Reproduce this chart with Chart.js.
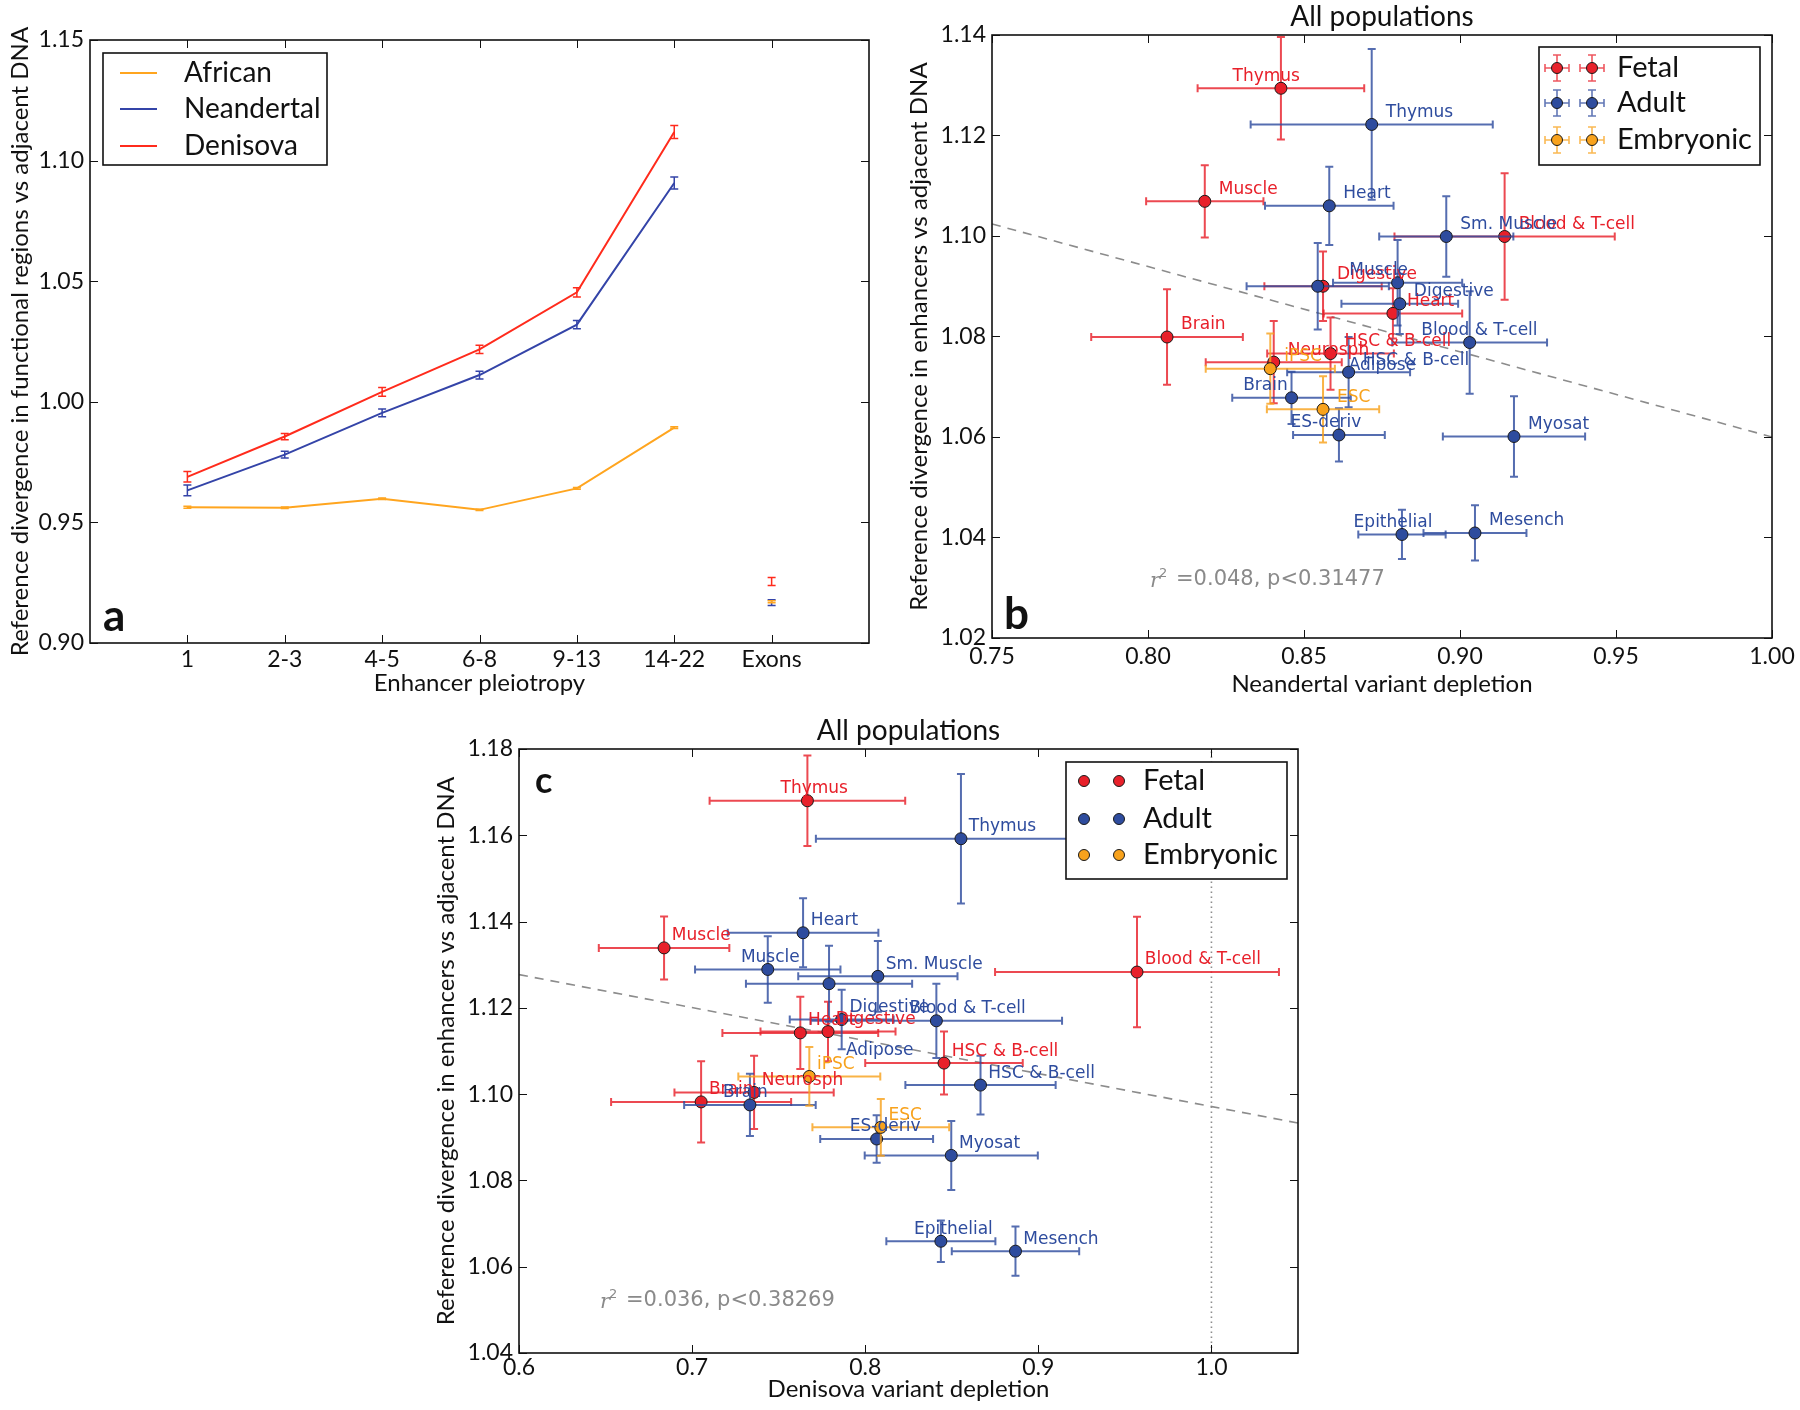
<!DOCTYPE html>
<html>
<head>
<meta charset="utf-8">
<script src="https://cdn.jsdelivr.net/npm/chart.js@4.4.0/dist/chart.umd.min.js"></script>
<style>
  html, body { margin: 0; padding: 0; background: #fff; }
  #wrap { position: relative; width: 1800px; height: 1410px; }
  #wrap canvas { position: absolute; left: 0; top: 0; }
</style>
</head>
<body>
<div id="wrap">
  <canvas id="panelA" width="1800" height="1410"></canvas>
  <canvas id="panelB" width="1800" height="1410"></canvas>
  <canvas id="panelC" width="1800" height="1410"></canvas>
</div>
<script>
// ---- panel a : divergence vs enhancer pleiotropy ----
const pleiotropyLabels = ['1', '2-3', '4-5', '6-8', '9-13', '14-22', 'Exons'];
const africanDiv    = [0.9563, 0.9561, 0.9598, 0.9552, 0.9641, 0.9893];
const africanErr    = [0.0004, 0.0003, 0.0003, 0.0003, 0.0004, 0.0004];
const neandertalDiv = [0.9633, 0.9781, 0.9954, 1.0111, 1.0320, 1.0907];
const neandertalErr = [0.0022, 0.0014, 0.0016, 0.0016, 0.0017, 0.0025];
const denisovaDiv   = [0.9689, 0.9856, 1.0041, 1.0217, 1.0454, 1.1119];
const denisovaErr   = [0.0022, 0.0013, 0.0018, 0.0017, 0.0019, 0.0027];
// exons: African, Neandertal, Denisova
const exonDiv = [0.9171, 0.9167, 0.9255];
const exonErr = [0.0004, 0.0012, 0.0017];
const ticksAY = [0.90, 0.95, 1.00, 1.05, 1.10, 1.15];

// ---- panel b : Neandertal variant depletion ----
const fetalTissuesB   = ['Thymus', 'Muscle', 'Brain', 'Digestive', 'Heart', 'Blood & T-cell', 'HSC & B-cell', 'Neurosph'];
const fetalDeplB      = [0.8426, 0.8182, 0.8061, 0.8561, 0.8785, 0.9143, 0.8585, 0.8403];
const fetalDeplErrB   = [0.0267, 0.0188, 0.0243, 0.0188, 0.0222, 0.0353, 0.0203, 0.0218];
const fetalDivB       = [1.1294, 1.1069, 1.0799, 1.0900, 1.0846, 1.0999, 1.0766, 1.0749];
const fetalDivErrB    = [0.0102, 0.0072, 0.0095, 0.0069, 0.0050, 0.0126, 0.0072, 0.0082];

const adultTissuesB   = ['Thymus', 'Heart', 'Sm. Muscle', 'Muscle', 'Digestive', 'Adipose', 'Blood & T-cell', 'HSC & B-cell', 'Brain', 'ES-deriv', 'Myosat', 'Epithelial', 'Mesench'];
const adultDeplB      = [0.8717, 0.8581, 0.8956, 0.8800, 0.8807, 0.8544, 0.9031, 0.8643, 0.8460, 0.8612, 0.9173, 0.8814, 0.9048];
const adultDeplErrB   = [0.0388, 0.0206, 0.0215, 0.0207, 0.0187, 0.0228, 0.0248, 0.0197, 0.0190, 0.0147, 0.0228, 0.0140, 0.0165];
const adultDivB       = [1.1222, 1.1060, 1.0999, 1.0907, 1.0865, 1.0900, 1.0788, 1.0729, 1.0678, 1.0604, 1.0601, 1.0406, 1.0409];
const adultDivErrB    = [0.0150, 0.0078, 0.0080, 0.0085, 0.0060, 0.0086, 0.0102, 0.0070, 0.0052, 0.0053, 0.0080, 0.0049, 0.0055];

const embTissuesB     = ['iPSC', 'ESC'];
const embDeplB        = [0.8392, 0.8561];
const embDeplErrB     = [0.0207, 0.0180];
const embDivB         = [1.0736, 1.0655];
const embDivErrB      = [0.0070, 0.0066];

const regDeplB = [0.75, 1.00];
const regDivB  = [1.1024, 1.0600];
const ticksBX = [0.75, 0.80, 0.85, 0.90, 0.95, 1.00];
const ticksBY = [1.02, 1.04, 1.06, 1.08, 1.10, 1.12, 1.14];

// ---- panel c : Denisova variant depletion ----
const fetalTissuesC   = ['Thymus', 'Muscle', 'Blood & T-cell', 'Heart', 'Digestive', 'HSC & B-cell', 'Brain', 'Neurosph'];
const fetalDeplC      = [0.7666, 0.6838, 0.9570, 0.7625, 0.7785, 0.8455, 0.7052, 0.7358];
const fetalDeplErrC   = [0.0565, 0.0377, 0.0820, 0.0450, 0.0390, 0.0455, 0.0520, 0.0460];
const fetalDivC       = [1.1680, 1.1339, 1.1283, 1.1142, 1.1145, 1.1072, 1.0982, 1.1004];
const fetalDivErrC    = [0.0105, 0.0073, 0.0128, 0.0084, 0.0069, 0.0073, 0.0094, 0.0085];

const adultTissuesC   = ['Thymus', 'Heart', 'Sm. Muscle', 'Muscle', 'Digestive', 'Adipose', 'Blood & T-cell', 'HSC & B-cell', 'Brain', 'ES-deriv', 'Myosat', 'Epithelial', 'Mesench'];
const adultDeplC      = [0.8553, 0.7641, 0.8073, 0.7437, 0.7864, 0.7791, 0.8411, 0.8666, 0.7334, 0.8066, 0.8497, 0.8437, 0.8868];
const adultDeplErrC   = [0.0838, 0.0435, 0.0460, 0.0420, 0.0300, 0.0480, 0.0726, 0.0434, 0.0380, 0.0326, 0.0500, 0.0315, 0.0368];
const adultDivC       = [1.1592, 1.1374, 1.1273, 1.1289, 1.1173, 1.1256, 1.1170, 1.1021, 1.0975, 1.0896, 1.0858, 1.0659, 1.0636];
const adultDivErrC    = [0.0150, 0.0080, 0.0082, 0.0077, 0.0069, 0.0088, 0.0086, 0.0068, 0.0072, 0.0055, 0.0080, 0.0048, 0.0057];

const embTissuesC     = ['iPSC', 'ESC'];
const embDeplC        = [0.7677, 0.8090];
const embDeplErrC     = [0.0410, 0.0395];
const embDivC         = [1.1041, 1.0923];
const embDivErrC      = [0.0068, 0.0066];

const regDeplC = [0.60, 1.05];
const regDivC  = [1.1277, 1.0933];
const ticksCX = [0.6, 0.7, 0.8, 0.9, 1.0];
const ticksCY = [1.04, 1.06, 1.08, 1.10, 1.12, 1.14, 1.16, 1.18];

// ---- styling ----
const FONT = 'Lato, "Open Sans", sans-serif';
const LABEL_FONT = '"DejaVu Sans", sans-serif';
const RED = '#e8202a', BLUE = '#2e4c9e', ORANGE = '#f8a21c';
const LINE_RED = '#ff2b1c', LINE_BLUE = '#3444a8', LINE_ORANGE = '#ffa51f';

Chart.defaults.color = '#111';
Chart.defaults.font.family = FONT;

const pts = (xs, ys) => xs.map((x, i) => ({ x: x, y: ys[i] }));

function fixTicks(values) {
  return s => { s.ticks = values.map(v => ({ value: v })); };
}

function fitY(width) {
  return s => { s.width = width; s.paddingTop = 0; s.paddingBottom = 0; };
}
function fitX(height) {
  return s => { s.height = height; s.paddingLeft = 0; s.paddingRight = 0; };
}

// error bars, point labels, frame, inward ticks, legends and notes
const decoPlugin = {
  id: 'deco',
  beforeDatasetDraw(chart, args) {
    const ds = chart.data.datasets[args.index];
    if (!ds.xErr && !ds.yErr) return;
    const { ctx, chartArea: ca, scales: { x, y } } = chart;
    const cap = ds.capSize || 4;
    ctx.save();
    ctx.beginPath();
    ctx.rect(ca.left, ca.top, ca.right - ca.left, ca.bottom - ca.top);
    ctx.clip();
    ctx.strokeStyle = ds.errColor;
    ctx.lineWidth = ds.errWidth || 2;
    ds.data.forEach((p, i) => {
      const px = x.getPixelForValue(p.x), py = y.getPixelForValue(p.y);
      ctx.beginPath();
      if (ds.yErr) {
        const t = y.getPixelForValue(p.y + ds.yErr[i]);
        const b = y.getPixelForValue(p.y - ds.yErr[i]);
        ctx.moveTo(px, t); ctx.lineTo(px, b);
        ctx.moveTo(px - cap, t); ctx.lineTo(px + cap, t);
        ctx.moveTo(px - cap, b); ctx.lineTo(px + cap, b);
      }
      if (ds.xErr) {
        const l = x.getPixelForValue(p.x - ds.xErr[i]);
        const r = x.getPixelForValue(p.x + ds.xErr[i]);
        ctx.moveTo(l, py); ctx.lineTo(r, py);
        ctx.moveTo(l, py - cap); ctx.lineTo(l, py + cap);
        ctx.moveTo(r, py - cap); ctx.lineTo(r, py + cap);
      }
      ctx.stroke();
    });
    ctx.restore();
  },
  afterDatasetsDraw(chart, args, opts) {
    const { ctx, chartArea: ca, scales: { x, y } } = chart;
    ctx.save();
    ctx.beginPath();
    ctx.rect(ca.left, ca.top, ca.right - ca.left, ca.bottom - ca.top);
    ctx.clip();
    ctx.font = '17px ' + LABEL_FONT;
    ctx.textBaseline = 'middle';
    ctx.textAlign = 'left';
    const shiftLeft = opts.labelLeft || [];
    const nudges = opts.nudges || {};
    chart.data.datasets.forEach(ds => {
      if (!ds.names) return;
      ctx.fillStyle = ds.labelColor;
      ds.data.forEach((p, i) => {
        const key = ds.label + ':' + ds.names[i];
        const px = x.getPixelForValue(p.x), py = y.getPixelForValue(p.y);
        let tx, ty = py - 12;
        if (nudges[key]) {
          tx = px + nudges[key][0]; ty = py + nudges[key][1];
        } else {
          const dx = shiftLeft.includes(key) ? -0.0155 : 0.0045;
          tx = x.getPixelForValue(p.x + dx);
        }
        ctx.fillText(ds.names[i], tx, ty);
      });
    });
    ctx.restore();
  },
  afterDraw(chart, args, opts) {
    const { ctx, chartArea: ca, scales: { x, y } } = chart;
    ctx.save();
    // inward ticks on all four sides
    ctx.strokeStyle = '#111';
    ctx.lineWidth = 1;
    ctx.beginPath();
    x.ticks.forEach(t => {
      const px = Math.round(x.getPixelForValue(t.value)) + 0.5;
      ctx.moveTo(px, ca.bottom); ctx.lineTo(px, ca.bottom - 8);
      ctx.moveTo(px, ca.top); ctx.lineTo(px, ca.top + 8);
    });
    y.ticks.forEach(t => {
      const py = Math.round(y.getPixelForValue(t.value)) + 0.5;
      ctx.moveTo(ca.left, py); ctx.lineTo(ca.left + 8, py);
      ctx.moveTo(ca.right, py); ctx.lineTo(ca.right - 8, py);
    });
    ctx.stroke();
    // frame
    ctx.lineWidth = 1.6;
    ctx.strokeRect(ca.left, ca.top, ca.right - ca.left, ca.bottom - ca.top);

    // legend
    const lg = opts.legend;
    if (lg) {
      ctx.fillStyle = '#fff';
      ctx.fillRect(lg.box[0], lg.box[1], lg.box[2] - lg.box[0], lg.box[3] - lg.box[1]);
      ctx.strokeStyle = '#111';
      ctx.lineWidth = 1.6;
      ctx.strokeRect(lg.box[0], lg.box[1], lg.box[2] - lg.box[0], lg.box[3] - lg.box[1]);
      lg.items.forEach((it, i) => {
        const ry = lg.rows[i];
        if (lg.kind === 'line') {
          ctx.strokeStyle = it.color;
          ctx.lineWidth = 2;
          ctx.beginPath();
          ctx.moveTo(lg.marks[0], ry); ctx.lineTo(lg.marks[1], ry);
          ctx.stroke();
        } else {
          lg.marks.forEach(mx => {
            if (lg.kind === 'errbar') {
              ctx.strokeStyle = it.err;
              ctx.lineWidth = 1.6;
              ctx.beginPath();
              ctx.moveTo(mx - 12, ry); ctx.lineTo(mx + 12, ry);
              ctx.moveTo(mx - 12, ry - 4); ctx.lineTo(mx - 12, ry + 4);
              ctx.moveTo(mx + 12, ry - 4); ctx.lineTo(mx + 12, ry + 4);
              ctx.moveTo(mx, ry - 13); ctx.lineTo(mx, ry + 13);
              ctx.moveTo(mx - 4, ry - 13); ctx.lineTo(mx + 4, ry - 13);
              ctx.moveTo(mx - 4, ry + 13); ctx.lineTo(mx + 4, ry + 13);
              ctx.stroke();
            }
            ctx.fillStyle = it.color;
            ctx.strokeStyle = '#1a1a1a';
            ctx.lineWidth = 1;
            ctx.beginPath();
            ctx.arc(mx, ry, 5.5, 0, Math.PI * 2);
            ctx.fill(); ctx.stroke();
          });
        }
        ctx.fillStyle = '#111';
        ctx.font = lg.fontSize + 'px ' + FONT;
        ctx.textAlign = 'left';
        ctx.textBaseline = 'middle';
        ctx.fillText(it.text, lg.textX, ry);
      });
    }

    // panel title
    if (opts.title) {
      ctx.fillStyle = '#111';
      ctx.font = '28px ' + FONT;
      ctx.textAlign = 'center';
      ctx.textBaseline = 'middle';
      ctx.fillText(opts.title, (ca.left + ca.right) / 2, opts.titleY);
    }
    // panel letter
    ctx.fillStyle = '#111';
    ctx.font = 'bold ' + opts.letterSize + 'px ' + FONT;
    ctx.textAlign = 'left';
    ctx.textBaseline = 'alphabetic';
    ctx.fillText(opts.letter, opts.letterPos[0], opts.letterPos[1]);

    // r^2 note
    if (opts.note) {
      const [nx, ny] = opts.notePos;
      ctx.fillStyle = '#8a8a8a';
      ctx.textBaseline = 'middle';
      ctx.font = 'italic 21px "DejaVu Serif", serif';
      ctx.fillText('r', nx, ny + 2);
      ctx.font = '13px "DejaVu Sans", sans-serif';
      ctx.fillText('2', nx + 9, ny - 6);
      ctx.font = '21px "DejaVu Sans", sans-serif';
      ctx.fillText(opts.note, nx + 26, ny);
    }
    ctx.restore();
  }
};
Chart.register(decoPlugin);

function scatterGroup(label, names, xs, xe, ys, ye, color, order) {
  return {
    label: label,
    names: names,
    data: pts(xs, ys),
    xErr: xe,
    yErr: ye,
    errColor: color + 'd0',
    errWidth: 2,
    capSize: 4,
    labelColor: color,
    backgroundColor: color,
    borderColor: '#1a1a1a',
    borderWidth: 1,
    pointRadius: 6,
    order: order
  };
}

function dashedLine(xs, ys, dash) {
  return {
    label: 'fit',
    data: pts(xs, ys),
    showLine: true,
    borderColor: '#8c8c8c',
    borderWidth: 1.6,
    borderDash: dash,
    pointRadius: 0,
    order: 9
  };
}

function baseOptions(pad, xScale, yScale, deco) {
  return {
    responsive: false,
    animation: false,
    events: [],
    layout: { padding: pad },
    plugins: { legend: { display: false }, tooltip: { enabled: false }, deco: deco },
    scales: { x: xScale, y: yScale }
  };
}

function linAxis(min, max, ticks, fmt, title, fixedSize, pad, isX) {
  return {
    type: 'linear',
    min: min, max: max,
    afterBuildTicks: fixTicks(ticks),
    afterFit: isX ? fitX(fixedSize) : fitY(fixedSize),
    grid: { display: false, drawTicks: false },
    border: { display: false },
    ticks: { callback: fmt, padding: pad, font: { size: 23, family: FONT }, color: '#111', maxRotation: 0 },
    title: { display: true, text: title, padding: 0, font: { size: 24, family: FONT }, color: '#111' }
  };
}

// ---------- panel a ----------
const lineSeries = [
  { label: 'African', vals: africanDiv, errs: africanErr, color: LINE_ORANGE },
  { label: 'Neandertal', vals: neandertalDiv, errs: neandertalErr, color: LINE_BLUE },
  { label: 'Denisova', vals: denisovaDiv, errs: denisovaErr, color: LINE_RED }
];
const catPos = pleiotropyLabels.map((_, i) => i + 1);
const datasetsA = [];
lineSeries.slice().reverse().forEach(s => {
  datasetsA.push({
    label: s.label,
    data: pts(catPos.slice(0, s.vals.length), s.vals),
    showLine: true,
    borderColor: s.color,
    borderWidth: 2,
    pointRadius: 0,
    yErr: s.errs,
    errColor: s.color,
    errWidth: 1.5,
    capSize: 4
  });
});
lineSeries.forEach((s, k) => {
  datasetsA.push({
    label: s.label + ' exons',
    data: [{ x: catPos[catPos.length - 1], y: exonDiv[k] }],
    showLine: false,
    pointRadius: 0,
    yErr: [exonErr[k]],
    errColor: s.color,
    errWidth: 1.5,
    capSize: 4
  });
});

const xAxisA = linAxis(0, 8, catPos, v => pleiotropyLabels[v - 1], 'Enhancer pleiotropy', 55, 3, true);
const yAxisA = linAxis(0.90, 1.15, ticksAY, v => v.toFixed(2), 'Reference divergence in functional regions vs adjacent DNA', 84, 6, false);

new Chart(document.getElementById('panelA'), {
  type: 'scatter',
  data: { datasets: datasetsA },
  options: baseOptions({ left: 6, top: 40, right: 931, bottom: 712 }, xAxisA, yAxisA, {
    legend: {
      kind: 'line', box: [103, 53, 327, 165], rows: [73, 109, 146], marks: [120, 157], textX: 184, fontSize: 28,
      items: lineSeries.map(s => ({ text: s.label, color: s.color }))
    },
    letter: 'a', letterSize: 44, letterPos: [103, 631]
  })
});

// ---------- panels b and c ----------
const groupLegend = [
  { text: 'Fetal', color: RED, err: RED + 'c0' },
  { text: 'Adult', color: BLUE, err: BLUE + 'c0' },
  { text: 'Embryonic', color: ORANGE, err: ORANGE + 'c0' }
];
const shiftedLabels = ['Fetal:Thymus', 'Adult:Muscle', 'Adult:Brain', 'Adult:ES-deriv', 'Adult:Blood & T-cell', 'Adult:Epithelial'];

new Chart(document.getElementById('panelB'), {
  type: 'scatter',
  data: {
    datasets: [
      scatterGroup('Fetal', fetalTissuesB, fetalDeplB, fetalDeplErrB, fetalDivB, fetalDivErrB, RED, 3),
      scatterGroup('Adult', adultTissuesB, adultDeplB, adultDeplErrB, adultDivB, adultDivErrB, BLUE, 2),
      scatterGroup('Embryonic', embTissuesB, embDeplB, embDeplErrB, embDivB, embDivErrB, ORANGE, 1),
      dashedLine(regDeplB, regDivB, [9, 7])
    ]
  },
  options: baseOptions({ left: 905, top: 35, right: 28, bottom: 711 },
    linAxis(0.75, 1.00, ticksBX, v => v.toFixed(2), 'Neandertal variant depletion', 61, 5, true),
    linAxis(1.02, 1.14, ticksBY, v => v.toFixed(2), 'Reference divergence in enhancers vs adjacent DNA', 87, 6, false),
    {
      labelLeft: shiftedLabels,
      nudges: { 'Adult:Adipose': [31, 79] },
      legend: { kind: 'errbar', box: [1539, 47, 1760, 165], rows: [68, 103, 140], marks: [1557, 1592], textX: 1617, fontSize: 29, items: groupLegend },
      title: 'All populations', titleY: 17,
      letter: 'b', letterSize: 44, letterPos: [1004, 629],
      note: '=0.048, p<0.31477', notePos: [1150, 580]
    })
});

new Chart(document.getElementById('panelC'), {
  type: 'scatter',
  data: {
    datasets: [
      scatterGroup('Fetal', fetalTissuesC, fetalDeplC, fetalDeplErrC, fetalDivC, fetalDivErrC, RED, 3),
      scatterGroup('Adult', adultTissuesC, adultDeplC, adultDeplErrC, adultDivC, adultDivErrC, BLUE, 2),
      scatterGroup('Embryonic', embTissuesC, embDeplC, embDeplErrC, embDivC, embDivErrC, ORANGE, 1),
      dashedLine(regDeplC, regDivC, [9, 7]),
      dashedLine([ticksCX[4], ticksCX[4]], [ticksCY[0], ticksCY[ticksCY.length - 1]], [1.5, 3.5])
    ]
  },
  options: baseOptions({ left: 432, top: 749, right: 502, bottom: 6 },
    linAxis(0.6, 1.05, ticksCX, v => v.toFixed(1), 'Denisova variant depletion', 51, 1, true),
    linAxis(1.04, 1.18, ticksCY, v => v.toFixed(2), 'Reference divergence in enhancers vs adjacent DNA', 87, 6, false),
    {
      labelLeft: shiftedLabels,
      nudges: { 'Adult:Adipose': [17, 67] },
      legend: { kind: 'marker', box: [1066, 762, 1287, 879], rows: [781, 819, 855], marks: [1084, 1119], textX: 1143, fontSize: 29, items: groupLegend },
      title: 'All populations', titleY: 731,
      letter: 'c', letterSize: 36, letterPos: [535, 793],
      note: '=0.036, p<0.38269', notePos: [600, 1301]
    })
});
</script>
</body>
</html>
